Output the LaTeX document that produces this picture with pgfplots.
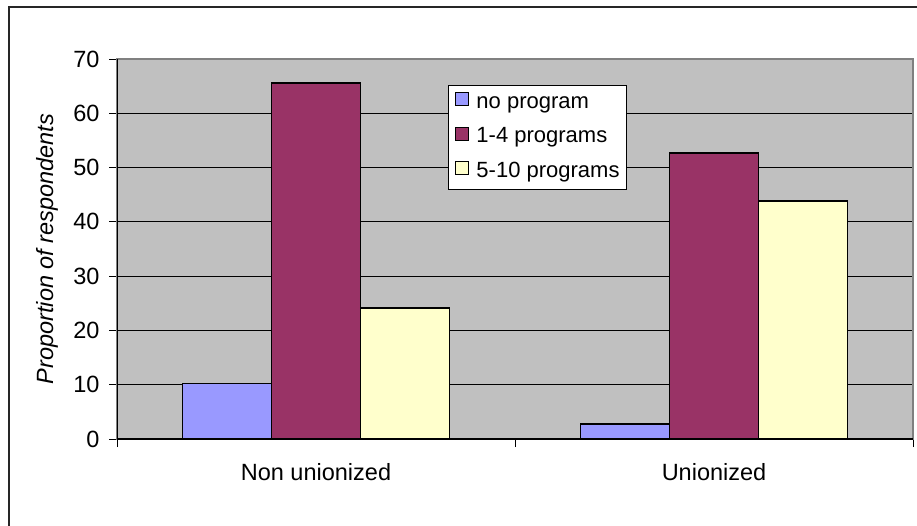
\documentclass[border=0pt]{standalone}
\usepackage{fontspec}
\setmainfont{Liberation Sans}
\usepackage{pgfplots}
\pgfplotsset{compat=1.18}

\definecolor{barblue}{HTML}{9999FF}
\definecolor{barmaroon}{HTML}{993366}
\definecolor{baryellow}{HTML}{FFFFCC}
\definecolor{plotgray}{HTML}{C0C0C0}
\definecolor{frame}{HTML}{808080}

\begin{document}
\begin{tikzpicture}
\useasboundingbox (0pt,0pt) rectangle (917pt,525pt);
\draw[line width=1.5pt, black!85] (9pt,-5pt) -- (9pt,518pt) -- (930pt,518pt);
\begin{axis}[
    at={(117pt,86pt)}, anchor=south west,
    scale only axis, width=796pt, height=380pt,
    ybar=0pt, bar width=89pt,
    xmin=-0.5, xmax=1.5, ymin=0, ymax=70,
    xtick={-0.5,0.5,1.5}, xticklabels={},
    extra x ticks={0,1},
    extra x tick labels={Non unionized, Unionized},
    extra x tick style={major tick length=0pt},
    ytick={0,10,...,70},
    ymajorgrids, xmajorgrids=false,
    major grid style={black, line width=0.8pt},
    tick align=outside, tick pos=left,
    major tick length=8pt,
    tick style={black, line width=1pt},
    axis line style={draw=frame, line width=1.5pt},
    axis background/.style={fill=plotgray},
    /pgf/number format/assume math mode=true,
    tick label style={font=\fontsize{23.5}{28}\selectfont},
    xticklabel style={yshift=-21pt},
    yticklabel style={xshift=-6pt},
    ylabel={\itshape Proportion of respondents},
    ylabel style={font=\fontsize{23.5}{28}\selectfont, at={(axis description cs:-0.088,0.5)}, anchor=center},
    legend cell align=left,
    legend image code/.code={\draw[#1, line width=1pt] (0pt,-3pt) rectangle (13pt,10pt);},
    legend style={at={(axis description cs:0.4158,0.9316)}, anchor=north west,
        draw=black, fill=white, line width=1pt, inner sep=7pt,
        font=\fontsize{22}{26}\selectfont, row sep=13.5pt,
        nodes={inner sep=0pt, text height=16pt, text depth=5pt},
        /tikz/every odd column/.append style={column sep=7pt}},
]
\addplot[draw=black, line width=1.6pt, fill=barblue] coordinates {(0,10.2) (1,2.8)};
\addplot[draw=black, line width=1.6pt, fill=barmaroon] coordinates {(0,65.6) (1,52.7)};
\addplot[draw=black, line width=1.6pt, fill=baryellow] coordinates {(0,24.1) (1,43.8)};
\legend{no program, 1-4 programs, 5-10 programs}
\draw[black, line width=1.5pt] (rel axis cs:0,1) -- (rel axis cs:0,0) -- (rel axis cs:1,0);
\end{axis}
\end{tikzpicture}
\end{document}
